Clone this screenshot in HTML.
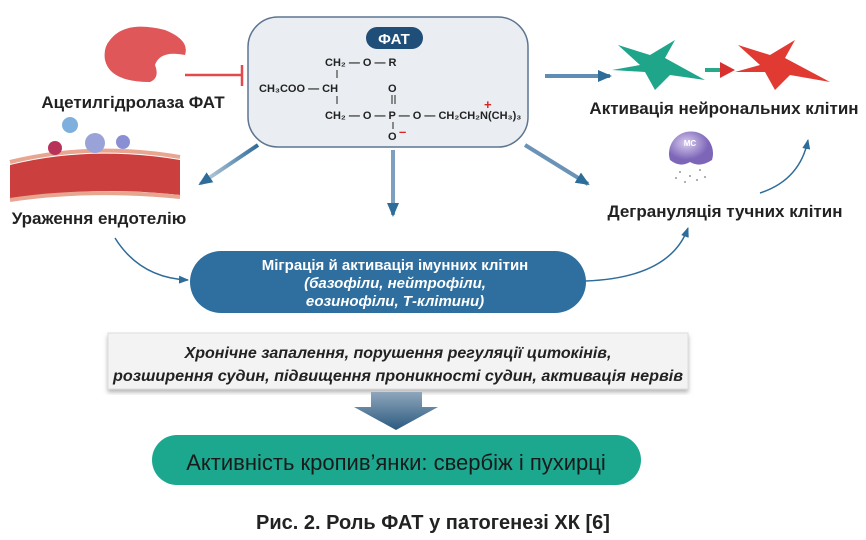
<!DOCTYPE html>
<html><head><meta charset="utf-8"><style>
body{margin:0;background:#fff}
svg{display:block;font-family:"Liberation Sans",sans-serif}
</style></head><body>
<svg width="866" height="540" viewBox="0 0 866 540" xmlns="http://www.w3.org/2000/svg">
<defs>
<marker id="ab" markerUnits="userSpaceOnUse" markerWidth="14" markerHeight="12" refX="12" refY="6" orient="auto"><path d="M0,0 L14,6 L0,12 z" fill="#2e6c9a"/></marker>
<marker id="as" markerUnits="userSpaceOnUse" markerWidth="10" markerHeight="8" refX="9" refY="4" orient="auto"><path d="M0,0 L10,4 L0,8 z" fill="#2e6c9a"/></marker>
<linearGradient id="ag" x1="0" x2="1"><stop offset="0" stop-color="#c9d6e3"/><stop offset="1" stop-color="#2e6c9a"/></linearGradient>
<linearGradient id="dn" x1="0" y1="0" x2="0" y2="1"><stop offset="0" stop-color="#8fa6bb"/><stop offset="1" stop-color="#2b5a80"/></linearGradient>
<radialGradient id="mc" cx="0.4" cy="0.35"><stop offset="0" stop-color="#d8ccef"/><stop offset="1" stop-color="#7d66b8"/></radialGradient>
<filter id="sh"><feDropShadow dx="0" dy="3" stdDeviation="2" flood-color="#888" flood-opacity="0.6"/></filter>
</defs>

<rect x="248" y="17" width="280" height="130" rx="30" fill="#eaeef3" stroke="#5d7590" stroke-width="1.5"/>
<rect x="366" y="27" width="57" height="22" rx="11" fill="#1f4e79"/>
<text x="394" y="44" font-size="15" font-weight="bold" fill="#fff" text-anchor="middle">ФАТ</text>
<g font-size="11" font-weight="bold" fill="#222">
<text x="325" y="66">CH₂ — O — R</text>
<line x1="337" y1="70" x2="337" y2="78" stroke="#222"/>
<text x="259" y="92">CH₃COO — CH</text>
<text x="388" y="92">O</text>
<line x1="392" y1="95" x2="392" y2="104" stroke="#222"/><line x1="395" y1="95" x2="395" y2="104" stroke="#222"/>
<line x1="337" y1="96" x2="337" y2="104" stroke="#222"/>
<text x="325" y="119">CH₂ — O — P — O — CH₂CH₂N(CH₃)₃</text>
<line x1="393" y1="122" x2="393" y2="129" stroke="#222"/>
<text x="388" y="140">O</text>
</g>
<text x="484" y="109" font-size="13" font-weight="bold" fill="#d22">+</text>
<text x="399" y="136" font-size="13" font-weight="bold" fill="#d22">–</text>

<line x1="185" y1="75" x2="242" y2="75" stroke="#e24b4b" stroke-width="2.5"/>
<line x1="242" y1="65" x2="242" y2="86" stroke="#e24b4b" stroke-width="2.5"/>
<path d="M110,40 Q125,20 165,30 Q190,40 185,55 Q160,50 155,65 Q160,78 150,82 Q110,82 105,60 Q103,48 110,40z" fill="#e0575a"/>
<text x="133" y="108" font-size="17" font-weight="bold" fill="#222" text-anchor="middle">Ацетилгідролаза ФАТ</text>

<path d="M10,165 Q90,145 180,160 L180,195 Q90,185 10,200z" fill="#c62a2a" opacity="0.9"/>
<path d="M10,162 Q90,142 180,157" stroke="#e8a590" stroke-width="4" fill="none"/>
<path d="M10,200 Q90,188 180,197" stroke="#e8a590" stroke-width="4" fill="none"/>
<circle cx="55" cy="148" r="7" fill="#b8335a"/>
<circle cx="70" cy="125" r="8" fill="#7fb0dd"/>
<circle cx="95" cy="143" r="10" fill="#9aa3d8"/>
<circle cx="123" cy="142" r="7" fill="#8a8fd4"/>
<text x="99" y="224" font-size="17" font-weight="bold" fill="#222" text-anchor="middle">Ураження ендотелію</text>

<line x1="258" y1="145" x2="200" y2="184" stroke="url(#ag)" stroke-width="4" marker-end="url(#ab)"/>
<line x1="393" y1="150" x2="393" y2="215" stroke="#7ea0bf" stroke-width="4" marker-end="url(#ab)"/>
<line x1="525" y1="145" x2="588" y2="184" stroke="#6b93b7" stroke-width="4" marker-end="url(#ab)"/>
<line x1="545" y1="76" x2="610" y2="76" stroke="#5f8db3" stroke-width="4" marker-end="url(#ab)"/>

<path d="M618,45 L650,55 L675,40 L665,58 L705,80 L670,75 L655,90 L645,72 L612,70 L640,65z" fill="#1fa58a"/>
<line x1="705" y1="70" x2="722" y2="70" stroke="#2aa88c" stroke-width="4"/>
<path d="M720,62 L735,70 L720,78z" fill="#d9302f"/>
<path d="M738,45 L770,55 L795,40 L785,58 L830,82 L790,75 L775,90 L765,72 L735,72 L760,65z" fill="#e03a32"/>
<text x="724" y="114" font-size="17" font-weight="bold" fill="#222" text-anchor="middle">Активація нейрональних клітин</text>

<path d="M670,160 A22,22 0 1 1 712,160 Q700,168 690,162 Q680,168 670,160z" fill="url(#mc)"/>
<text x="690" y="146" font-size="8" font-weight="bold" fill="#fff" text-anchor="middle">MC</text>
<g fill="#999"><circle cx="680" cy="172" r="1"/><circle cx="690" cy="176" r="1"/><circle cx="700" cy="170" r="1"/><circle cx="685" cy="182" r="1"/><circle cx="697" cy="180" r="1"/><circle cx="705" cy="177" r="1"/><circle cx="676" cy="178" r="1"/></g>
<text x="725" y="217" font-size="17" font-weight="bold" fill="#222" text-anchor="middle">Дегрануляція тучних клітин</text>
<path d="M760,193 Q800,180 808,140" stroke="#2e6c9a" stroke-width="1.5" fill="none" marker-end="url(#as)"/>

<path d="M115,238 Q140,278 188,280" stroke="#2e6c9a" stroke-width="1.5" fill="none" marker-end="url(#as)"/>
<path d="M585,281 Q670,278 688,228" stroke="#2e6c9a" stroke-width="1.5" fill="none" marker-end="url(#as)"/>

<rect x="190" y="251" width="396" height="62" rx="31" fill="#2f6f9f"/>
<g font-size="15" font-weight="bold" fill="#fff" text-anchor="middle">
<text x="395" y="270">Міграція й активація імунних клітин</text>
<text x="395" y="288" font-style="italic">(базофіли, нейтрофіли,</text>
<text x="395" y="306" font-style="italic">еозинофіли, Т-клітини)</text>
</g>

<rect x="108" y="333" width="580" height="56" fill="#f3f3f3" stroke="#ddd" filter="url(#sh)"/>
<g font-size="16" font-weight="bold" font-style="italic" fill="#222" text-anchor="middle">
<text x="398" y="358">Хронічне запалення, порушення регуляції цитокінів,</text>
<text x="398" y="381" textLength="570" lengthAdjust="spacingAndGlyphs">розширення судин, підвищення проникності судин, активація нервів</text>
</g>

<path d="M371,392 L422,392 L422,407 L438,407 L396,430 L354,407 L371,407z" fill="url(#dn)"/>

<rect x="152" y="435" width="489" height="50" rx="25" fill="#1ba88f"/>
<text x="396" y="470" font-size="22" fill="#1a1a1a" text-anchor="middle">Активність кропив’янки: свербіж і пухирці</text>

<text x="433" y="529" font-size="20" font-weight="bold" fill="#222" text-anchor="middle">Рис. 2. Роль ФАТ у патогенезі ХК [6]</text>
</svg>
</body></html>
